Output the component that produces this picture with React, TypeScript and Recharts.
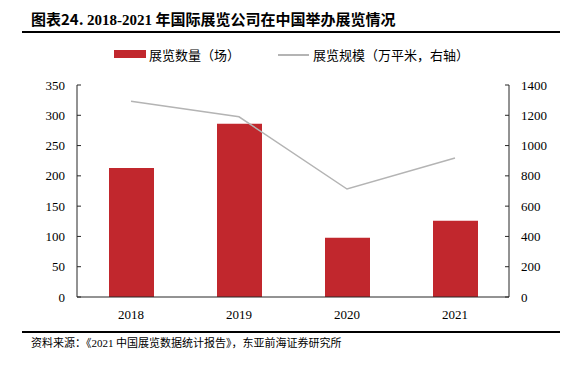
import React from 'react';
import { ComposedChart, Bar, Line, XAxis, YAxis } from 'recharts';

const years = ['2018', '2019', '2020', '2021'];
const exhibitionCount = [213, 286, 98, 126];
const exhibitionArea = [1293, 1190, 713, 918];
const leftTicks = [0, 50, 100, 150, 200, 250, 300, 350];
const rightTicks = [0, 200, 400, 600, 800, 1000, 1200, 1400];

const data = years.map((y, i) => ({
  year: y,
  count: exhibitionCount[i],
  area: exhibitionArea[i],
}));

const FONT = '"Liberation Serif", "Noto Sans CJK SC", serif';
const CJK = '"Noto Sans CJK SC", "Liberation Serif", sans-serif';
const RED = '#C1272D';
const GRAY = '#B4B4B4';
const AXIS = '#262626';
const tick = { fontSize: 13, fill: '#000', fontFamily: FONT };

export default function App() {
  return (
    <div
      style={{
        position: 'absolute',
        left: 0,
        top: 0,
        width: 581,
        height: 365,
        background: '#fff',
        fontFamily: FONT,
      }}
    >
      {/* title */}
      <div
        style={{
          position: 'absolute',
          left: 31,
          top: 8,
          fontSize: 15,
          fontWeight: 'bold',
          fontFamily: CJK,
          whiteSpace: 'nowrap',
        }}
      >
        图表24.{' '}
        <span style={{ fontFamily: FONT }}>2018-2021</span> 年国际展览公司在中国举办展览情况
      </div>
      <div style={{ position: 'absolute', left: 22, top: 31, width: 538, height: 2, background: '#000' }} />

      {/* legend */}
      <div style={{ position: 'absolute', left: 114, top: 50, width: 32, height: 8, background: RED }} />
      <div style={{ position: 'absolute', left: 149, top: 45, fontSize: 13, fontFamily: CJK, whiteSpace: 'nowrap' }}>
        展览数量（场）
      </div>
      <div style={{ position: 'absolute', left: 278, top: 54, width: 31, height: 1.5, background: GRAY }} />
      <div style={{ position: 'absolute', left: 313, top: 45, fontSize: 13, fontFamily: CJK, whiteSpace: 'nowrap' }}>
        展览规模（万平米，右轴）
      </div>

      <div style={{ position: 'absolute', left: 0, top: 0 }}>
        <ComposedChart
          width={581}
          height={365}
          data={data}
          margin={{ top: 85, right: 0, bottom: 38, left: 0 }}
        >
          <XAxis
            dataKey="year"
            tick={tick}
            tickLine={false}
            axisLine={{ stroke: AXIS }}
            tickMargin={7}
            height={30}
          />
          <YAxis
            yAxisId="left"
            domain={[0, 350]}
            ticks={leftTicks}
            width={77}
            tick={tick}
            tickSize={-4}
            tickMargin={16}
            axisLine={{ stroke: AXIS }}
            tickLine={{ stroke: AXIS }}
            interval={0}
          />
          <YAxis
            yAxisId="right"
            orientation="right"
            domain={[0, 1400]}
            ticks={rightTicks}
            width={72}
            tick={{ ...tick, textAnchor: 'start' }}
            tickSize={-4}
            tickMargin={16}
            axisLine={{ stroke: AXIS }}
            tickLine={{ stroke: AXIS }}
            interval={0}
          />
          <Bar yAxisId="left" dataKey="count" fill={RED} barSize={45} isAnimationActive={false} />
          <Line
            yAxisId="right"
            dataKey="area"
            stroke={GRAY}
            strokeWidth={1.5}
            dot={false}
            isAnimationActive={false}
          />
        </ComposedChart>
      </div>

      {/* source */}
      <div style={{ position: 'absolute', left: 22, top: 331, width: 538, height: 2, background: '#000' }} />
      <div style={{ position: 'absolute', left: 31, top: 334, fontSize: 11, fontFamily: CJK, whiteSpace: 'nowrap' }}>
        资料来源：《<span style={{ fontFamily: FONT }}>2021</span> 中国展览数据统计报告》，东亚前海证券研究所
      </div>
    </div>
  );
}
